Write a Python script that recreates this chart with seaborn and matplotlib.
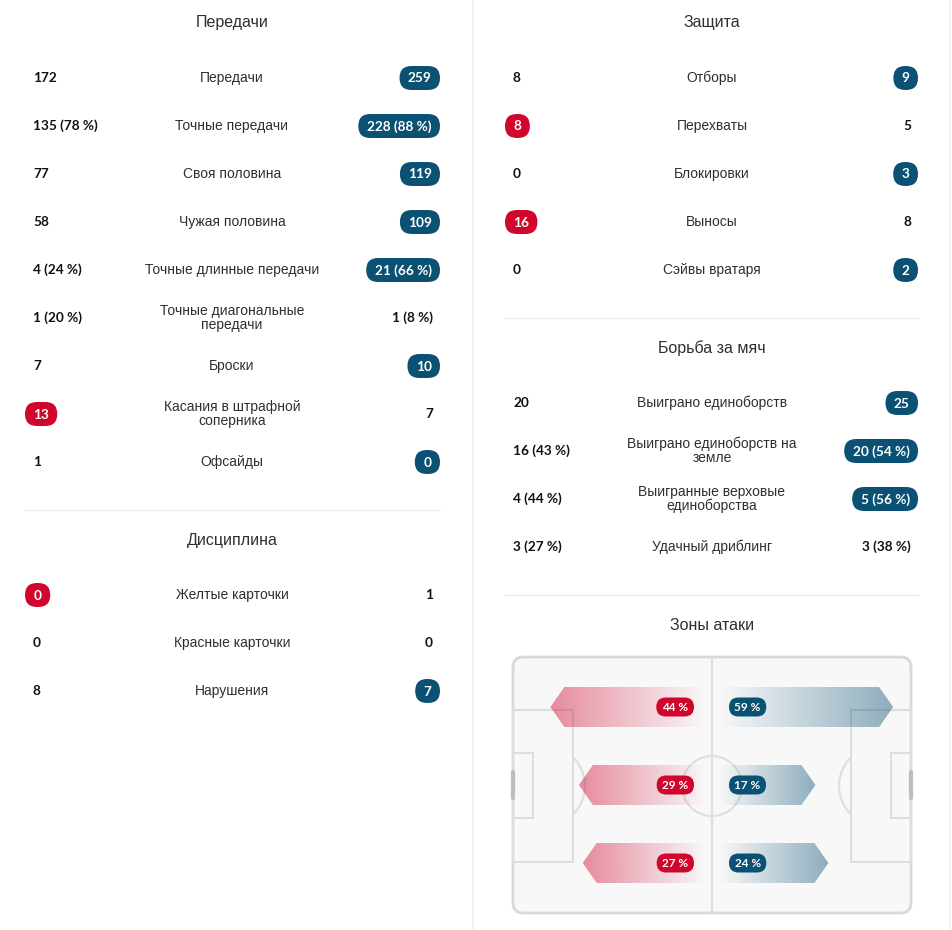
import numpy as np
import seaborn as sns
import matplotlib.pyplot as plt
from matplotlib.patches import FancyBboxPatch, Rectangle, Circle, Arc, Polygon
from matplotlib.textpath import TextPath
from matplotlib.font_manager import FontProperties

# ---- data ----
pass_labels = ["Передачи", "Точные передачи", "Своя половина", "Чужая половина",
               "Точные длинные передачи", "Точные диагональные\nпередачи", "Броски",
               "Касания в штрафной\nсоперника", "Офсайды"]
pass_home = ["172", "135 (78 %)", "77", "58", "4 (24 %)", "1 (20 %)", "7", "13", "1"]
pass_away = ["259", "228 (88 %)", "119", "109", "21 (66 %)", "1 (8 %)", "10", "7", "0"]
pass_best = ["a", "a", "a", "a", "a", "", "a", "h", "a"]

disc_labels = ["Желтые карточки", "Красные карточки", "Нарушения"]
disc_home = ["0", "0", "8"]
disc_away = ["1", "0", "7"]
disc_best = ["h", "", "a"]

def_labels = ["Отборы", "Перехваты", "Блокировки", "Выносы", "Сэйвы вратаря"]
def_home = ["8", "8", "0", "16", "0"]
def_away = ["9", "5", "3", "8", "2"]
def_best = ["a", "h", "a", "h", "a"]

duel_labels = ["Выиграно единоборств", "Выиграно единоборств на\nземле",
               "Выигранные верховые\nединоборства", "Удачный дриблинг"]
duel_home = ["20", "16 (43 %)", "4 (44 %)", "3 (27 %)"]
duel_away = ["25", "20 (54 %)", "5 (56 %)", "3 (38 %)"]
duel_best = ["a", "a", "a", ""]

zone_home = [44, 29, 27]
zone_away = [59, 17, 24]

# ---- style ----
sns.set_theme(style="white")
RED, BLUE = sns.color_palette(["#d0062c", "#0b5174"])
TXT = "#2f2f2f"
LINE = "#efefef"
plt.rcParams["font.family"] = ["Liberation Sans", "DejaVu Sans"]
VAL_FONT = ["Lato", "DejaVu Sans"]

W, H = 953, 930
fig = plt.figure(figsize=(W / 100, H / 100), dpi=100)
ax = fig.add_axes([0, 0, 1, 1])


def text_width(s, fs):
    tp = TextPath((0, 0), s, size=fs * 100 / 72,
                  prop=FontProperties(family=VAL_FONT, weight="bold"))
    return tp.get_extents().width


def badge(x, y, s, color, align, fs=9.8, h=24, padx=9):
    w = max(text_width(s, fs) + 2 * padx, h)
    x0 = x - w if align == "right" else x
    ax.add_patch(FancyBboxPatch((x0, y - h / 2), w, h,
                                boxstyle=f"round,pad=0,rounding_size={h / 2}",
                                fc=color, ec="none", zorder=5))
    ax.text(x0 + w / 2, y + 0.5, s, ha="center", va="center", color="white",
            fontsize=fs, fontweight="bold", family=VAL_FONT, zorder=6)


def section(title, tx, ty, y0, labels, home, away, best, xl, xr):
    ax.text(tx, ty, title, ha="center", va="center", fontsize=11.5, color=TXT)
    for i, lab in enumerate(labels):
        y = y0 + 48 * i
        ax.text(tx, y, lab, ha="center", va="center", fontsize=10,
                color=TXT, linespacing=1.0)
        if best[i] == "h":
            badge(xl - 8, y, home[i], RED, "left")
        else:
            ax.text(xl, y, home[i], ha="left", va="center", fontsize=9.8,
                    fontweight="bold", family=VAL_FONT, color="#111111")
        if best[i] == "a":
            badge(xr + 7, y, away[i], BLUE, "right")
        else:
            ax.text(xr, y, away[i], ha="right", va="center", fontsize=9.8,
                    fontweight="bold", family=VAL_FONT, color="#111111")


# column dividers
ax.plot([473, 473], [0, H], color="#f3f3f3", lw=1.5)
ax.plot([950, 950], [0, H], color="#f3f3f3", lw=1.5)

section("Передачи", 232, 23, 78, pass_labels, pass_home, pass_away, pass_best, 33, 433)
ax.plot([25, 440], [510, 510], color=LINE, lw=1)
section("Дисциплина", 232, 540, 595, disc_labels, disc_home, disc_away, disc_best, 33, 433)

section("Защита", 712, 23, 78, def_labels, def_home, def_away, def_best, 513, 911)
ax.plot([505, 919], [318, 318], color=LINE, lw=1)
section("Борьба за мяч", 712, 348, 403, duel_labels, duel_home, duel_away, duel_best, 513, 911)
ax.plot([505, 919], [595, 595], color=LINE, lw=1)
ax.text(712, 625, "Зоны атаки", ha="center", va="center", fontsize=11.5, color=TXT)

# ---- pitch ----
PL, PR, PT, PB, MID = 513, 911, 657, 913, 712
PC = (PT + PB) / 2 + 1
pl_col = "#dedede"
ax.add_patch(FancyBboxPatch((PL, PT), PR - PL, PB - PT,
                            boxstyle="round,pad=0,rounding_size=10",
                            fc="#f8f8f9", ec="#d9d9d9", lw=2, zorder=1))
ax.plot([MID, MID], [PT, PB], color=pl_col, lw=1.5, zorder=1)
ax.add_patch(Circle((MID, PC), 30, fill=False, ec=pl_col, lw=1.5, zorder=1))
ax.add_patch(Rectangle((PL, 710), 60, 152, fill=False, ec=pl_col, lw=1.5, zorder=1))
ax.add_patch(Rectangle((PR - 60, 710), 60, 152, fill=False, ec=pl_col, lw=1.5, zorder=1))
ax.add_patch(Rectangle((PL, 753), 20, 65, fill=False, ec=pl_col, lw=1.5, zorder=1))
ax.add_patch(Rectangle((PR - 20, 753), 20, 65, fill=False, ec=pl_col, lw=1.5, zorder=1))
ax.add_patch(Arc((PL + 32, PC), 80, 80, theta1=-45, theta2=45, ec=pl_col, lw=1.5, zorder=1))
ax.add_patch(Arc((PR - 32, PC), 80, 80, theta1=135, theta2=225, ec=pl_col, lw=1.5, zorder=1))
ax.plot([PL, PL], [772, 798], color="#bdbdbd", lw=3, zorder=2)
ax.plot([PR, PR], [772, 798], color="#bdbdbd", lw=3, zorder=2)


def grad_arrow(yc, length, color, side):
    hh, notch = 20, 14
    if side == "left":
        tip, end = MID - length, MID - 6
        pts = [(tip, yc), (tip + notch, yc - hh), (end, yc - hh), (end, yc + hh), (tip + notch, yc + hh)]
        alpha = np.linspace(0.45, 0.0, 256)
        x0, x1 = tip, end
    else:
        tip, end = MID + length, MID + 6
        pts = [(tip, yc), (tip - notch, yc - hh), (end, yc - hh), (end, yc + hh), (tip - notch, yc + hh)]
        alpha = np.linspace(0.0, 0.45, 256)
        x0, x1 = end, tip
    img = np.zeros((1, 256, 4))
    img[..., :3] = color
    img[..., 3] = alpha
    poly = Polygon(pts, closed=True, fc="none", ec="none", zorder=3)
    ax.add_patch(poly)
    im = ax.imshow(img, extent=[x0, x1, yc + hh, yc - hh], aspect="auto",
                   interpolation="bilinear", zorder=3)
    im.set_clip_path(poly)


for i, (vh, va) in enumerate(zip(zone_home, zone_away)):
    yc = 707 + 78 * i
    grad_arrow(yc, 78 + 1.9 * vh, RED, "left")
    grad_arrow(yc, 72 + 1.85 * va, BLUE, "right")
    badge(694, yc, f"{vh} %", RED, "right", fs=8.5, h=19, padx=6)
    badge(729, yc, f"{va} %", BLUE, "left", fs=8.5, h=19, padx=6)

ax.set_xlim(0, W)
ax.set_ylim(H, 0)
ax.axis("off")
fig.savefig("out.png", dpi=100, facecolor="white")
